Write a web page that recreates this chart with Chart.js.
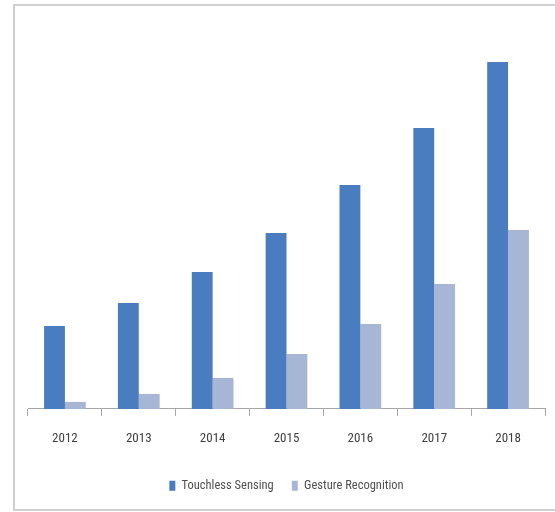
<!DOCTYPE html>
<html>
<head>
<meta charset="utf-8">
<script src="https://cdn.jsdelivr.net/npm/chart.js@4/dist/chart.umd.min.js"></script>
<style>
html,body{margin:0;padding:0;background:#fff;}
#frame{position:absolute;left:13px;top:4px;width:560px;height:507px;border:2px solid #cfcfcf;box-sizing:border-box;}
#wrap{position:absolute;left:0;top:0;width:555px;height:512px;}
</style>
</head>
<body>
<div id="frame"></div>
<div id="wrap"><canvas id="c"></canvas></div>
<script>
const categories = ["2012","2013","2014","2015","2016","2017","2018"];
const touchlessSensing = [83, 106, 137, 176, 224, 281, 347];
const gestureRecognition = [7, 15, 31, 55, 85, 125, 179];

const FONT = '"Roboto Condensed", "DejaVu Sans Condensed", sans-serif';

new Chart(document.getElementById('c'), {
  type: 'bar',
  data: {
    labels: categories,
    datasets: [
      {label: 'Touchless Sensing', data: touchlessSensing, backgroundColor: '#4a7cc0', borderWidth: 0},
      {label: 'Gesture Recognition', data: gestureRecognition, backgroundColor: '#a8b6d6', borderWidth: 0}
    ]
  },
  options: {
    responsive: true,
    maintainAspectRatio: false,
    animation: false,
    layout: {padding: {left: 28, right: 10, top: 9, bottom: 10}},
    datasets: {bar: {categoryPercentage: 0.565, barPercentage: 1.0}},
    plugins: {
      tooltip: {enabled: false},
      legend: {
        position: 'bottom',
        labels: {
          boxWidth: 6, boxHeight: 10, padding: 18,
          color: '#505050',
          font: {family: FONT, size: 12.5, weight: 'normal'}
        }
      }
    },
    scales: {
      x: {
        grid: {display: true, offset: true, drawOnChartArea: false, drawTicks: true, tickLength: 7, color: '#a6a6a6', lineWidth: 1},
        border: {display: true, color: '#a6a6a6', width: 1},
        ticks: {color: '#404040', padding: 15, font: {family: FONT, size: 13, weight: 'normal'}}
      },
      y: {display: false, min: 0, max: 400}
    }
  }
});
</script>
</body>
</html>
